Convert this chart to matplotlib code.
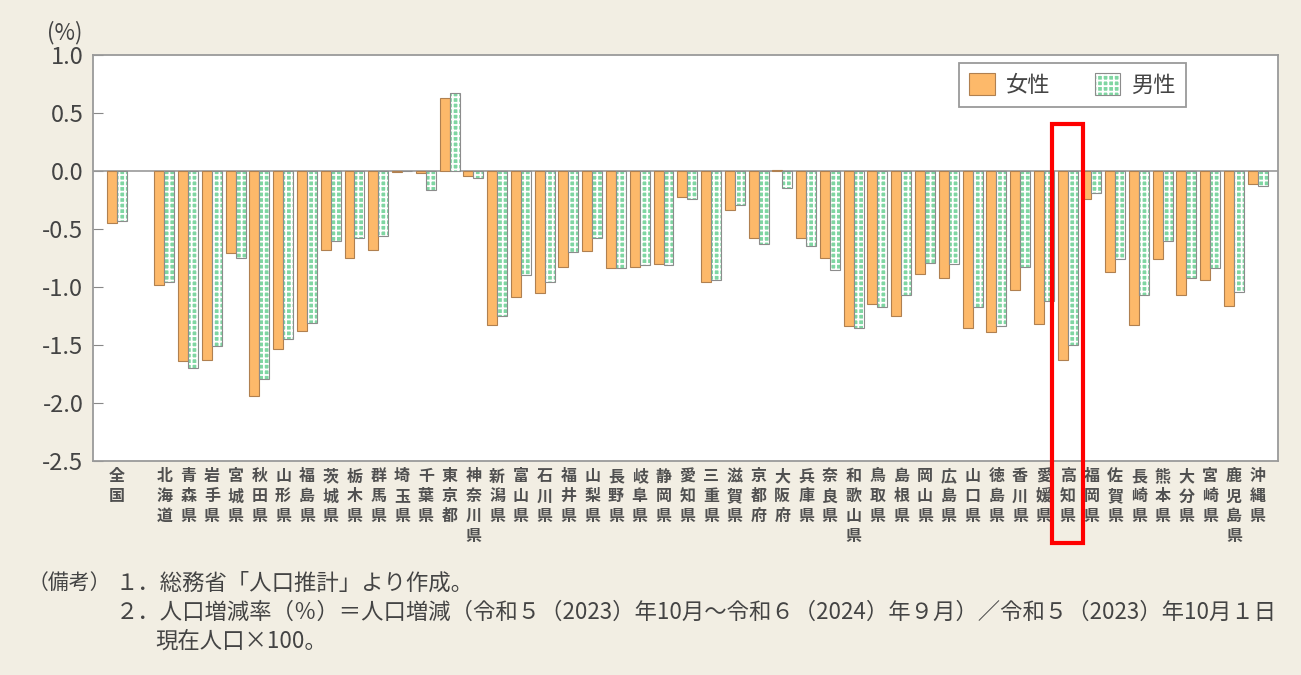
import matplotlib
matplotlib.use("Agg")
import matplotlib.pyplot as plt
import matplotlib.transforms as mtransforms
from matplotlib.patches import Patch, Rectangle
from matplotlib.legend_handler import HandlerTuple
import numpy as np

plt.rcParams['font.family'] = ['Noto Sans CJK JP', 'DejaVu Sans']
plt.rcParams['hatch.linewidth'] = 1.3

# data (人口増減率 %, 令和5年10月～令和6年9月)
areas = ['全国',
         '北海道', '青森県', '岩手県', '宮城県', '秋田県', '山形県', '福島県',
         '茨城県', '栃木県', '群馬県', '埼玉県', '千葉県', '東京都', '神奈川県',
         '新潟県', '富山県', '石川県', '福井県', '山梨県', '長野県', '岐阜県',
         '静岡県', '愛知県', '三重県', '滋賀県', '京都府', '大阪府', '兵庫県',
         '奈良県', '和歌山県', '鳥取県', '島根県', '岡山県', '広島県', '山口県',
         '徳島県', '香川県', '愛媛県', '高知県', '福岡県', '佐賀県', '長崎県',
         '熊本県', '大分県', '宮崎県', '鹿児島県', '沖縄県']
female = [-0.45,
          -0.98, -1.64, -1.63, -0.71, -1.94, -1.53, -1.38,
          -0.68, -0.75, -0.68, -0.01, -0.02, 0.63, -0.04,
          -1.33, -1.09, -1.05, -0.83, -0.69, -0.84, -0.83,
          -0.80, -0.22, -0.96, -0.34, -0.58, 0.01, -0.58,
          -0.75, -1.34, -1.15, -1.25, -0.89, -0.92, -1.35,
          -1.39, -1.03, -1.32, -1.63, -0.24, -0.87, -1.33,
          -0.76, -1.07, -0.94, -1.16, -0.11]
male = [-0.43,
        -0.96, -1.70, -1.51, -0.75, -1.79, -1.45, -1.31,
        -0.60, -0.58, -0.56, 0.00, -0.16, 0.67, -0.06,
        -1.25, -0.90, -0.96, -0.70, -0.58, -0.84, -0.81,
        -0.81, -0.24, -0.94, -0.29, -0.63, -0.15, -0.65,
        -0.85, -1.35, -1.17, -1.07, -0.79, -0.80, -1.17,
        -1.34, -0.83, -1.12, -1.50, -0.19, -0.76, -1.07,
        -0.60, -0.92, -0.84, -1.04, -0.13]
highlight = '高知県'
notes = ['（備考）',
         '１．総務省「人口推計」より作成。',
         '２．人口増減率（％）＝人口増減（令和５（2023）年10月～令和６（2024）年９月）／令和５（2023）年10月１日',
         '現在人口×100。']

bg = '#F2EEE3'
orange = '#FDB96A'
green = '#7FD6A2'
edge = '#8C8C8C'
txt = '#444444'

# 全国 at 0, a gap, then the prefectures
pos = np.array([0] + list(range(2, 2 + len(areas) - 1)))
w = 0.42

fig = plt.figure(figsize=(13.01, 6.75), dpi=100, facecolor=bg)
ax = fig.add_axes([0.0715, 0.317, 0.9108, 0.6015])
ax.set_facecolor('white')

ax.bar(pos - w / 2, female, width=w, color=orange, edgecolor='#B08050', linewidth=0.8, zorder=3)
ax.bar(pos + w / 2, male, width=w, color=green, edgecolor='white', hatch='+++', linewidth=0, zorder=3)
ax.bar(pos + w / 2, male, width=w, fill=False, edgecolor=edge, linewidth=0.8, zorder=4)
ax.axhline(0, color='#999999', linewidth=1.2, zorder=2)

ax.set_xlim(-1.0, pos[-1] + 0.85)
ax.set_ylim(-2.5, 1.0)
ax.set_yticks(np.arange(-2.5, 1.01, 0.5))
ax.set_yticklabels(['%.1f' % v for v in np.arange(-2.5, 1.01, 0.5)])
ax.tick_params(axis='y', direction='in', length=7, color='#888888', labelsize=17,
               labelcolor=txt, pad=7)
ax.set_xticks([])
for s in ax.spines.values():
    s.set_color('#9A9A9A')
    s.set_linewidth(1.3)

fig.text(0.050, 0.952, '(%)', fontsize=16, color=txt, ha='center', va='center')

# vertical area labels
tr = mtransforms.blended_transform_factory(ax.transData, fig.transFigure)
for p, name in zip(pos, areas):
    ax.text(p, 0.306, '\n'.join(name), transform=tr, ha='center', va='top',
            fontsize=11.5, fontweight='bold', color='#505050', linespacing=1.3,
            clip_on=False)

# legend
h_f = Patch(facecolor=orange, edgecolor='#B08050', linewidth=0.8)
h_m1 = Patch(facecolor=green, edgecolor='white', hatch='+++', linewidth=0)
h_m2 = Patch(fill=False, edgecolor=edge, linewidth=0.8)
leg = ax.legend([h_f, (h_m1, h_m2)], ['女性', '男性'],
                handler_map={tuple: HandlerTuple(ndivide=1, pad=0)},
                loc='upper right', bbox_to_anchor=(0.9224, 0.98), borderaxespad=0,
                ncol=2, fontsize=16, handlelength=1.15, handleheight=1.15,
                columnspacing=2.0, handletextpad=0.5, borderpad=0.45,
                fancybox=False, edgecolor='#9A9A9A', framealpha=1)
for t in leg.get_texts():
    t.set_color(txt)
leg.get_frame().set_linewidth(1.3)

# highlight box
i = areas.index(highlight)
ax.add_patch(Rectangle((pos[i] - 0.64, 0.196), 1.28, 0.62, transform=tr,
                       fill=False, edgecolor='#FF0000', linewidth=3, clip_on=False, zorder=10))

# notes
fig.text(0.021, 0.136, notes[0], fontsize=15, color=txt, va='center')
fig.text(0.089, 0.136, notes[1], fontsize=16.1, color=txt, va='center')
fig.text(0.089, 0.093, notes[2], fontsize=16.1, color=txt, va='center')
fig.text(0.119, 0.050, notes[3], fontsize=16.1, color=txt, va='center')

fig.savefig('out.png', dpi=100, facecolor=bg)
